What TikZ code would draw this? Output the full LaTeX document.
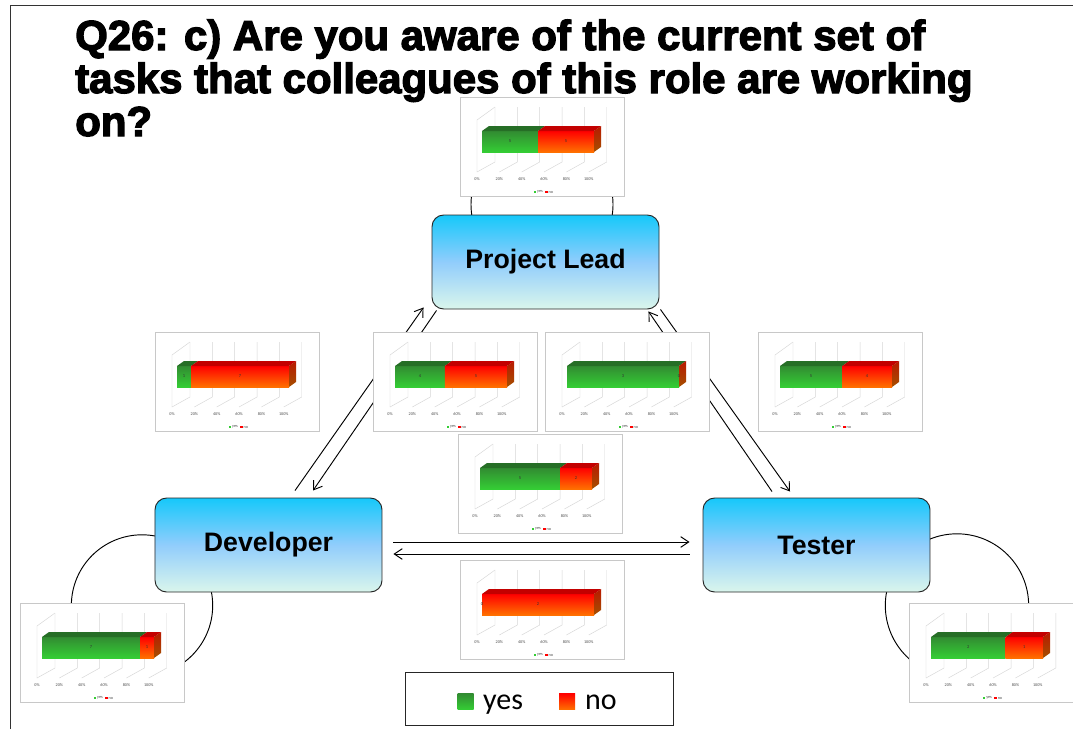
\documentclass[tikz,border=0pt]{standalone}
\usepackage{fontspec}
\setmainfont{Liberation Sans}
\newfontfamily\titlefont{Liberation Sans}[BoldFeatures={FakeBold=3}]
\newfontfamily\calfont{Carlito}
\usepackage{tikz}
\usetikzlibrary{arrows.meta, calc, backgrounds}
\definecolor{boxtop}{RGB}{22,200,250}
\definecolor{boxmid}{RGB}{145,205,252}
\definecolor{boxbot}{RGB}{218,246,236}
\definecolor{gtop}{RGB}{38,110,38}
\definecolor{gfront}{RGB}{50,140,50}
\definecolor{gfrontlo}{RGB}{52,205,52}
\definecolor{rtop}{RGB}{195,0,0}
\definecolor{rfront}{RGB}{255,0,0}
\definecolor{rfrontlo}{RGB}{255,112,0}
\definecolor{rside}{RGB}{185,25,0}
\definecolor{rsidelo}{RGB}{165,80,0}
\definecolor{gridgray}{RGB}{215,215,215}
\definecolor{framegray}{RGB}{200,200,200}

\tikzset{
  chartbox/.style={draw=framegray, fill=white, line width=0.7pt, inner sep=0pt,
    anchor=north west, minimum width=4.92cm, minimum height=2.97cm},
  gridline/.style={draw=gridgray, line width=0.4pt},
  ticklab/.style={font=\calfont\fontsize{3.6}{3.6}\selectfont, text=black!70, inner sep=0pt},
  barnum/.style={font=\calfont\fontsize{3.8}{3.8}\selectfont, text=black!80, inner sep=0pt},
}

% small 3D yes/no bar chart: name, x, y, yes, no
\newcommand{\ynchart}[5]{%
  \begin{scope}[shift={(#2,#3)}]
    \node[chartbox] (#1) at (0,0) {};
    \draw[gridline] (17,75) -- (17,23) -- (35,10);
    \foreach \k in {0,...,5} {
      \draw[gridline] ({35+22.35*\k},10) -- ({35+22.35*\k},65) -- ({17+22.35*\k},75);
      \pgfmathtruncatemacro\pc{20*\k}
      \node[ticklab] (#1-t\k) at ({17+22.35*\k},82) {\pc\%};
    }
    \pgfmathsetmacro\xb{22+112*#4/(#4+#5)}
    \ifnum#4>0
      \shade[top color=gfront, bottom color=gfrontlo] (22,34) rectangle (\xb,55);
      \fill[gtop] (22,34) -- (29,29) -- (\xb+7,29) -- (\xb,34) -- cycle;
    \fi
    \ifnum#5>0
      \shade[top color=rfront, bottom color=rfrontlo] (\xb,34) rectangle (134,55);
      \fill[rtop] (\xb,34) -- (\xb+7,29) -- (141,29) -- (134,34) -- cycle;
    \fi
    \shade[top color=rside, bottom color=rsidelo] (134,34) -- (141,29) -- (141,50) -- (134,55) -- cycle;
    \node[barnum] (#1-yv) at ({(22+\xb)/2},44.5) {#4};
    \node[barnum] (#1-nv) at ({(\xb+134)/2},44.5) {#5};
    % legend
    \fill[gfrontlo] (73.5,93.8) rectangle (76,96.3);
    \node[ticklab, anchor=west] (#1-ly) at (77,95) {yes};
    \fill[rfront] (85,93.8) rectangle (87.5,96.3);
    \node[ticklab, anchor=west] (#1-ln) at (88.5,95) {no};
  \end{scope}}

\begin{document}
\begin{tikzpicture}[x=0.03cm, y=-0.03cm,
  role/.style={draw=black!85, line width=0.8pt, rounded corners=0.35cm,
    minimum width=6.81cm, minimum height=2.82cm,
    top color=boxtop, bottom color=boxbot, middle color=boxmid,
    font=\bfseries\fontsize{22.8}{26}\selectfont},
  titletext/.style={anchor=base west, inner sep=0pt,
    font=\titlefont\bfseries\fontsize{35.8}{40}\selectfont},
  flow/.style={line width=0.8pt, -{Straight Barb[length=2.4mm, width=3.2mm]}},
  loopline/.style={line width=0.8pt},
  legtext/.style={anchor=base west, inner sep=0pt, font=\calfont\fontsize{25.6}{30}\selectfont}]
  \useasboundingbox (0,0) rectangle (1073,729);
  \draw[line width=0.8pt, black!80] (10,729) -- (10,5) -- (1073,5);

  % Question
  \node[titletext] (q1) at (75,50) {Q26: c) Are you aware of the current set of};
  \node[titletext] (q2) at (75,93) {tasks that colleagues of this role are working};
  \node[titletext] (q3) at (75,136) {on?};

  % Roles
  \node[role] (pl) at (545.5,262) {Project Lead};
  \node[role] (dev) at (268.5,545) {Developer};
  \node[role] (tst) at (816.5,545) {Tester};

  \begin{scope}[on background layer]
    % self loops
    \draw[loopline] ([shift={(-3.5,-10)}]pl.north) circle[radius=2.13cm];
    \draw[loopline] ([shift={(-12.5,13)}]dev.south west) circle[radius=2.12cm];
    \draw[loopline] ([shift={(26.5,13)}]tst.south east) circle[radius=2.15cm];
    % awareness arrows
    \draw[flow] ([shift={(26.5,-7)}]dev.north) -- ([shift={(-8,-2)}]pl.south west);
    \draw[flow] ([shift={(5,1)}]pl.south west) -- ([shift={(44.5,-7)}]dev.north);
    \draw[flow] ([shift={(-44.5,-6)}]tst.north) -- ([shift={(-11,2)}]pl.south east);
    \draw[flow] ([shift={(1,0)}]pl.south east) -- ([shift={(-26.5,-6)}]tst.north);
    \draw[flow] ([shift={(11,-3)}]dev.east) -- ([shift={(-13,-3)}]tst.west);
    \draw[flow] ([shift={(-13,9)}]tst.west) -- ([shift={(11,9)}]dev.east);
  \end{scope}

  % Charts
  \ynchart{chPL}{460}{97}{5}{5}
  \ynchart{chDevPL}{155}{332}{1}{7}
  \ynchart{chPLDev}{373}{332}{4}{5}
  \ynchart{chPLTst}{545}{332}{3}{0}
  \ynchart{chTstPL}{758}{332}{5}{4}
  \ynchart{chTstDev}{458}{434}{5}{2}
  \ynchart{chDevTst}{460}{560}{0}{2}
  \ynchart{chDev}{20}{603}{7}{1}
  \ynchart{chTst}{909}{603}{2}{1}

  % Legend
  \node[draw=black!85, line width=0.8pt, minimum width=8.04cm, minimum height=1.59cm] (legend) at (539,698.5) {};
  \node[inner sep=0pt, minimum size=0.48cm, top color=gfront, bottom color=gfrontlo] (sqyes) at (465.5,701.5) {};
  \node[legtext] (lyes) at (483,709) {yes};
  \node[inner sep=0pt, minimum size=0.48cm, top color=rfront, bottom color=rfrontlo] (sqno) at (567,701.5) {};
  \node[legtext] (lno) at (585,709) {no};
\end{tikzpicture}
\end{document}
